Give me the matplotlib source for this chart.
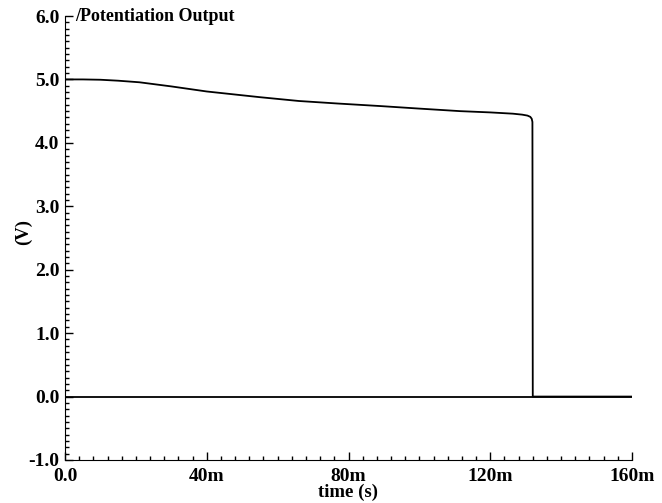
import matplotlib
matplotlib.use('Agg')
import matplotlib.pyplot as plt
from matplotlib.ticker import MultipleLocator, FuncFormatter

# time in ms, voltage in V
time_ms = [0, 5, 10, 15, 21, 30, 40, 50, 55, 66, 77, 89, 100, 111.5, 120, 126.4, 129, 130.5, 131.3, 131.7, 131.9, 132.0, 160]
volts = [5.0, 5.0, 4.995, 4.98, 4.955, 4.89, 4.81, 4.75, 4.72, 4.66, 4.62, 4.58, 4.54, 4.50, 4.48, 4.46, 4.445, 4.43, 4.41, 4.38, 4.33, 0.0, 0.0]
# second trace sitting at 0 V over the whole run
zero_time_ms = [0, 160]
zero_volts = [0.0, 0.0]

xticks = [0, 40, 80, 120, 160]
xtick_labels = ['0.0', '40m', '80m', '120m', '160m']

plt.rcParams['font.family'] = ['Liberation Serif', 'DejaVu Serif']
plt.rcParams['font.weight'] = 'bold'

fig = plt.figure(figsize=(6.62, 5.03), dpi=100)
ax = fig.add_axes([65 / 662, 43 / 503, 567 / 662, 444 / 503])

ax.plot([t / 1000 for t in zero_time_ms], zero_volts, color='black', linewidth=1.3)
ax.plot([t / 1000 for t in time_ms], volts, color='black', linewidth=1.3)

ax.set_xlim(0, 0.160)
ax.set_ylim(-1.0, 6.0)
ax.set_xticks([t / 1000 for t in xticks])
ax.set_xticklabels(xtick_labels)
ax.xaxis.set_minor_locator(MultipleLocator(0.004))
ax.yaxis.set_major_locator(MultipleLocator(1.0))
ax.yaxis.set_minor_locator(MultipleLocator(0.1))
ax.yaxis.set_major_formatter(FuncFormatter(lambda v, p: '%.1f' % v))

for s in ['top', 'right']:
    ax.spines[s].set_visible(False)
ax.tick_params(which='both', direction='in', labelsize=14, width=1)
ax.tick_params(which='major', length=6)
ax.tick_params(axis='x', which='major', pad=6)
ax.tick_params(axis='y', which='major', pad=4)
ax.tick_params(which='minor', length=3)

ax.set_xlabel('time (s)', fontsize=13.5, fontweight='bold', labelpad=-1)
ax.set_ylabel('(V)', fontsize=13.5, fontweight='bold')
ax.yaxis.set_label_coords(-0.058, 0.513)
ax.text(0.003, 6.0, '/Potentiation Output', fontsize=13, fontweight='bold', va='center', ha='left')

fig.savefig('out.png', dpi=100)
